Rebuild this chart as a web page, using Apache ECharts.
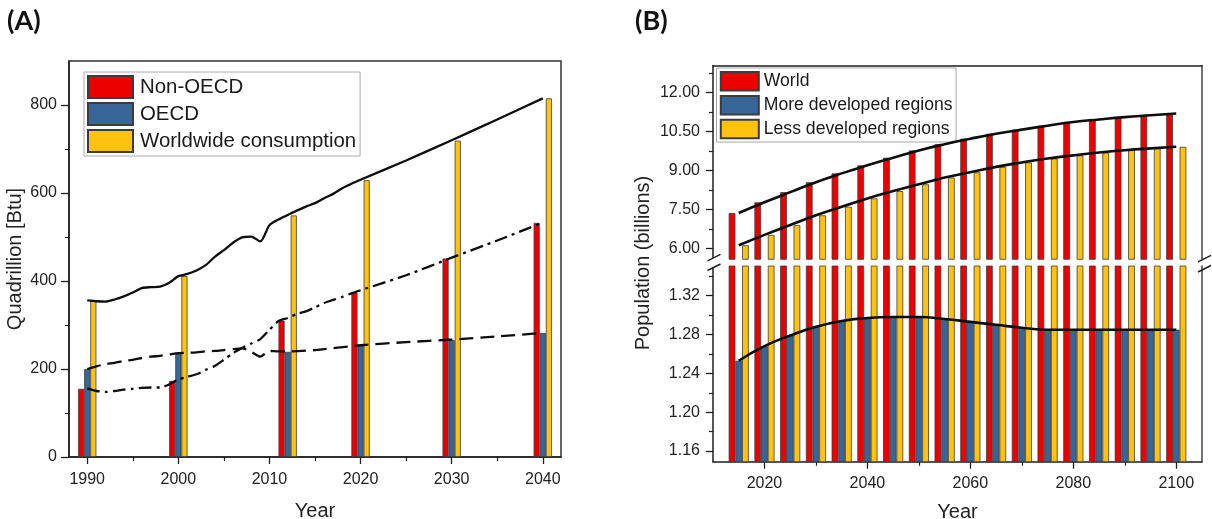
<!DOCTYPE html>
<html>
<head>
<meta charset="utf-8">
<script src="https://cdn.jsdelivr.net/npm/echarts@6/dist/echarts.min.js"></script>
<style>
html,body{margin:0;padding:0;background:#fff;}
#chart{width:1212px;height:519px;}
</style>
</head>
<body>
<div id="chart"></div>
<script>
// ---------- Panel A: energy consumption (quadrillion Btu) ----------
const yearsA = [1990, 2000, 2012, 2020, 2030, 2040];
const nonOecdBars = [155, 173, 310, 374, 451, 532];
const oecdBars = [200, 236, 239, 255, 266, 282];
const worldwideBars = [355, 411, 549, 629, 719, 815];

const totalLineYears = [1990,1991,1992,1993,1994,1995,1996,1997,1998,1999,2000,2001,2002,2003,2004,2005,2006,2007,2008,2009,2010,2011,2012,2013,2014,2015,2016,2017,2018,2019,2020,2025,2030,2035,2040];
const totalLineValues = [356,354,353,358,365,374,384,386,387,396,411,416,424,436,455,470,487,499,501,490,527,540,550,560,569,577,588,598,611,621,630,674,720,767,815];

const nonOecdLineYears = [1990,1991,1992,1993,1994,1995,1996,1997,1998,1999,2000,2001,2002,2003,2004,2005,2006,2007,2008,2009,2010,2011,2012,2013,2014,2015,2016,2017,2018,2019,2020,2025,2030,2035,2040];
const nonOecdLineValues = [156,150,148,150,153,155,157,158,158,165,176,182,188,198,207,221,236,248,258,268,289,309,316,325,331,340,350,357,364,372,379,413,453,492,533];

const oecdLineYears = [1990,1991,1992,1993,1994,1995,1996,1997,1998,1999,2000,2001,2002,2003,2004,2005,2006,2007,2008,2009,2010,2011,2012,2015,2020,2025,2030,2035,2040];
const oecdLineValues = [200,206,211,214,218,221,225,228,230,233,236,237,238,240,241,243,245,247,239,228,241,240,240,243,254,261,267,274,282];

const xTicksA = [1990, 2000, 2010, 2020, 2030, 2040];
const xMinorA = [1995, 2005, 2015, 2025, 2035];
const yTicksA = [0, 200, 400, 600, 800];
const yMinorA = [100, 300, 500, 700];

// ---------- Panel B: population (billions) ----------
const yearsB = [2015,2020,2025,2030,2035,2040,2045,2050,2055,2060,2065,2070,2075,2080,2085,2090,2095,2100];
const worldPop = [7.37,7.78,8.17,8.55,8.89,9.20,9.49,9.77,10.01,10.22,10.41,10.57,10.72,10.86,10.96,11.05,11.12,11.19];
const morePop = [1.253,1.268,1.279,1.288,1.294,1.297,1.298,1.298,1.296,1.293,1.290,1.287,1.285,1.285,1.285,1.285,1.285,1.285];
const lessPop = [6.13,6.53,6.91,7.28,7.61,7.93,8.21,8.47,8.73,8.93,9.14,9.31,9.46,9.58,9.69,9.78,9.85,9.91];

const xTicksB = [2020, 2040, 2060, 2080, 2100];
const xMinorB = [2030, 2050, 2070, 2090];
const yTicksUpper = [6, 7.5, 9, 10.5, 12];
const yMinorUpper = [6.75, 8.25, 9.75, 11.25, 12.75];
const yTicksLower = [1.16, 1.20, 1.24, 1.28, 1.32];
const yMinorLower = [1.18, 1.22, 1.26, 1.30, 1.34];

// ---------- styling ----------
const RED = '#EC0000', BLUE = '#386698', YELLOW = '#FFC211';
const AXIS = '#1e1e1e';
const FONT = '"Liberation Sans", Arial, sans-serif';
const pairs = (xs, ys) => xs.map((x, i) => [x, ys[i]]);

const GA = {left: 69, top: 61, width: 492, height: 396};
const GBU = {left: 713, top: 65.5, width: 489, height: 193.8};
const GBL = {left: 713, top: 266, width: 489, height: 195.7};

const lineAx = {show: true, lineStyle: {color: AXIS, width: 1.5}};
const lbl = (extra) => Object.assign({fontSize: 16, color: '#222', fontFamily: FONT}, extra);
const plain = v => String(Math.round(v));

function minorAxis(grid, pos, min, max, values) {
  return {type: 'value', gridIndex: grid, position: pos, min: min, max: max,
    axisLine: {show: false}, splitLine: {show: false},
    axisTick: {show: true, length: 4, customValues: values, lineStyle: {color: AXIS, width: 1.2}},
    axisLabel: {show: false}};
}

const xAxes = [
  {type: 'value', gridIndex: 0, position: 'bottom', min: 1988, max: 2042,
    axisLine: lineAx, splitLine: {show: false},
    axisTick: {show: true, length: 7, customValues: xTicksA, lineStyle: {color: AXIS, width: 1.3}},
    axisLabel: lbl({customValues: xTicksA, margin: 15, formatter: plain}),
    name: 'Year', nameLocation: 'middle', nameGap: 44,
    nameTextStyle: {fontSize: 20, color: '#222', fontFamily: FONT}},
  minorAxis(0, 'bottom', 1988, 2042, xMinorA),
  {type: 'value', gridIndex: 1, position: 'top', min: 2010, max: 2105,
    axisLine: lineAx, splitLine: {show: false}, axisTick: {show: false}, axisLabel: {show: false}},
  {type: 'value', gridIndex: 2, position: 'bottom', min: 2010, max: 2105,
    axisLine: lineAx, splitLine: {show: false},
    axisTick: {show: true, length: 7, customValues: xTicksB, lineStyle: {color: AXIS, width: 1.3}},
    axisLabel: lbl({customValues: xTicksB, margin: 14, formatter: plain}),
    name: 'Year', nameLocation: 'middle', nameGap: 41,
    nameTextStyle: {fontSize: 20, color: '#222', fontFamily: FONT}},
  minorAxis(2, 'bottom', 2010, 2105, xMinorB)
];

const yAxes = [
  {type: 'value', gridIndex: 0, position: 'left', min: 0, max: 900,
    axisLine: lineAx, splitLine: {show: false},
    axisTick: {show: true, length: 8, customValues: yTicksA, lineStyle: {color: AXIS, width: 1.3}},
    axisLabel: lbl({customValues: yTicksA, margin: 12, formatter: plain}),
    name: 'Quadrillion [Btu]', nameLocation: 'middle', nameGap: 44,
    nameTextStyle: {fontSize: 20, color: '#222', fontFamily: FONT}},
  minorAxis(0, 'left', 0, 900, yMinorA),
  {type: 'value', gridIndex: 1, position: 'left', min: 5.593, max: 13.03,
    axisLine: lineAx, splitLine: {show: false},
    axisTick: {show: true, length: 7, customValues: yTicksUpper, lineStyle: {color: AXIS, width: 1.3}},
    axisLabel: lbl({customValues: yTicksUpper, margin: 13, formatter: v => Number(v).toFixed(2)})},
  minorAxis(1, 'left', 5.593, 13.03, yMinorUpper),
  {type: 'value', gridIndex: 1, position: 'right', min: 5.593, max: 13.03,
    axisLine: {show: true, lineStyle: {color: '#444', width: 1.5}}, splitLine: {show: false},
    axisTick: {show: false}, axisLabel: {show: false}},
  {type: 'value', gridIndex: 2, position: 'left', min: 1.149, max: 1.3506,
    axisLine: lineAx, splitLine: {show: false},
    axisTick: {show: true, length: 7, customValues: yTicksLower, lineStyle: {color: AXIS, width: 1.3}},
    axisLabel: lbl({customValues: yTicksLower, margin: 13, formatter: v => Number(v).toFixed(2)})},
  minorAxis(2, 'left', 1.149, 1.3506, yMinorLower),
  {type: 'value', gridIndex: 2, position: 'right', min: 1.149, max: 1.3506,
    axisLine: {show: true, lineStyle: {color: '#444', width: 1.5}}, splitLine: {show: false},
    axisTick: {show: false}, axisLabel: {show: false}}
];

const barStyle = (c) => ({color: c, borderColor: '#3c3c3c', borderWidth: 0.8});

function barA(name, vals, color) {
  return {type: 'bar', name: name, xAxisIndex: 0, yAxisIndex: 0, data: pairs(yearsA, vals),
    barWidth: 6.1, barGap: '0%', itemStyle: barStyle(color), z: 2};
}
function lineA(name, xs, ys, dash) {
  return {type: 'line', name: name, xAxisIndex: 0, yAxisIndex: 0, data: pairs(xs, ys),
    showSymbol: false, symbol: 'none', smooth: 0.25, z: 4,
    lineStyle: {color: '#0d0d0d', width: 2.3, type: dash}};
}
function barB(name, vals, color, xi, yi) {
  return {type: 'bar', name: name, xAxisIndex: xi, yAxisIndex: yi, data: pairs(yearsB, vals),
    barWidth: 6.7, barGap: '0%', itemStyle: barStyle(color), clip: true, z: 2};
}
function lineB(name, vals, xi, yi) {
  return {type: 'line', name: name, xAxisIndex: xi, yAxisIndex: yi, data: pairs(yearsB, vals),
    showSymbol: false, symbol: 'none', smooth: 0.5, clip: true, z: 4,
    lineStyle: {color: '#0d0d0d', width: 2.6}};
}

const series = [
  barA('Non-OECD', nonOecdBars, RED),
  barA('OECD', oecdBars, BLUE),
  barA('Worldwide consumption', worldwideBars, YELLOW),
  lineA('Total trend', totalLineYears, totalLineValues, 'solid'),
  lineA('Non-OECD trend', nonOecdLineYears, nonOecdLineValues, [13, 5, 3, 5]),
  lineA('OECD trend', oecdLineYears, oecdLineValues, [14, 7]),

  barB('World', worldPop, RED, 2, 2),
  barB('More developed regions', morePop, BLUE, 2, 2),
  barB('Less developed regions', lessPop, YELLOW, 2, 2),
  barB('World', worldPop, RED, 3, 5),
  barB('More developed regions', morePop, BLUE, 3, 5),
  barB('Less developed regions', lessPop, YELLOW, 3, 5),
  lineB('World trend', worldPop, 2, 2),
  lineB('Less developed trend', lessPop, 2, 2),
  lineB('More developed trend', morePop, 3, 5)
];

// axis break marks (decoration) positioned from grid layout
const brkY = GBU.top + GBU.height;
function slash(x, y) {
  return {type: 'line', shape: {x1: x - 6, y1: y + 3, x2: x + 7, y2: y - 3.5},
    style: {stroke: '#1e1e1e', lineWidth: 1.5}, z: 100};
}
const xl = GBU.left, xr = GBU.left + GBU.width;
const graphics = [
  {type: 'rect', shape: {x: xl - 1, y: brkY - 1, width: 2.5, height: GBL.top - brkY + 2}, style: {fill: '#fff'}, z: 99},
  slash(xl + 0.5, brkY - 1.5), slash(xl + 0.5, GBL.top + 1.5),
  slash(xr + 2, brkY - 0.5), slash(xr + 2, GBL.top + 3),
  {type: 'text', x: 643, y: 263, rotation: Math.PI / 2,
    style: {text: 'Population (billions)', fill: '#222', font: '20px ' + FONT,
      textAlign: 'center', textVerticalAlign: 'middle'}}
];

const gridBase = {containLabel: false, outerBoundsMode: 'none'};

const option = {
  backgroundColor: '#fff',
  animation: false,
  title: [
    {text: '(A)', left: 2, top: 3, textStyle: {fontFamily: 'Lato, "Open Sans", sans-serif', fontWeight: 'bold', fontSize: 27, color: '#111'}},
    {text: '(B)', left: 630, top: 3, textStyle: {fontFamily: 'Lato, "Open Sans", sans-serif', fontWeight: 'bold', fontSize: 27, color: '#111'}}
  ],
  grid: [
    Object.assign({show: true, borderColor: '#333', borderWidth: 1.5, backgroundColor: 'transparent'}, gridBase, GA),
    Object.assign({}, gridBase, GBU),
    Object.assign({}, gridBase, GBL)
  ],
  legend: [
    {data: ['Non-OECD', 'OECD', 'Worldwide consumption'], orient: 'vertical', left: 84, top: 72,
      itemWidth: 45, itemHeight: 22, itemGap: 3, icon: 'rect', selectedMode: false,
      padding: [3, 4, 3, 3], borderColor: '#a8a8a8', borderWidth: 1, backgroundColor: '#fff',
      textStyle: {fontSize: 20.4, color: '#1a1a1a', fontFamily: FONT, padding: [0, 0, 0, 2]}},
    {data: ['World', 'More developed regions', 'Less developed regions'], orient: 'vertical', left: 716.5, top: 68,
      itemWidth: 38, itemHeight: 18.5, itemGap: 3.4, icon: 'rect', selectedMode: false,
      padding: [3, 3.5, 2.7, 3.3], borderColor: '#a8a8a8', borderWidth: 1, backgroundColor: '#fff',
      textStyle: {fontSize: 17.6, color: '#1a1a1a', fontFamily: FONT}}
  ],
  xAxis: xAxes,
  yAxis: yAxes,
  series: series,
  graphic: graphics
};

const chart = echarts.init(document.getElementById('chart'), null, {renderer: 'canvas'});
chart.setOption(option);
</script>
</body>
</html>
